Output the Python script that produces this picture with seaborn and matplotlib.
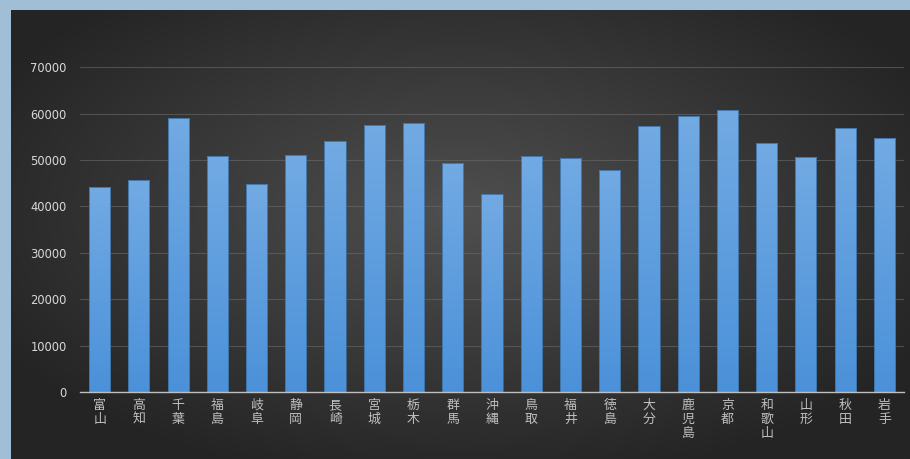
import numpy as np
import pandas as pd
import matplotlib
matplotlib.use("Agg")
import matplotlib.pyplot as plt
import seaborn as sns
from matplotlib.colors import LinearSegmentedColormap

# Prefectures and their values
prefectures = ["富山", "高知", "千葉", "福島", "岐阜", "静岡", "長崎", "宮城", "栃木", "群馬",
               "沖縄", "鳥取", "福井", "徳島", "大分", "鹿児島", "京都", "和歌山", "山形", "秋田", "岩手"]
values = [44200, 45800, 59100, 50900, 44800, 51000, 54200, 57500, 58000, 49400,
          42600, 50800, 50400, 47800, 57400, 59400, 60700, 53600, 50600, 57000, 54700]
y_ticks = [0, 10000, 20000, 30000, 40000, 50000, 60000, 70000]

sns.set_theme(style="dark")
plt.rcParams["font.family"] = ["DejaVu Sans", "Noto Sans CJK JP"]

W, H = 910, 459
fig = plt.figure(figsize=(W / 100, H / 100), dpi=100)
fig.patch.set_facecolor("#a0bfd6")

# Dark panel with a soft radial glow
bg = fig.add_axes([11 / W, 0, (W - 11) / W, (H - 10) / H])
bg.set_axis_off()
gx, gy = np.meshgrid(np.linspace(-1, 1, 400), np.linspace(-1, 1, 200))
r = np.sqrt(((gx - 0.0) / 1.2) ** 2 + ((gy + 0.1) / 1.25) ** 2)
glow = np.clip(1 - r, 0, 1) ** 1.0
panel_cmap = LinearSegmentedColormap.from_list("panel", ["#242424", "#4f4f4f"])
bg.imshow(glow, cmap=panel_cmap, aspect="auto", extent=[0, 1, 0, 1], vmin=0, vmax=1)
bg.set_xlim(0, 1)
bg.set_ylim(0, 1)

df = pd.DataFrame({"prefecture": prefectures, "value": values})

ax = fig.add_axes([80 / W, (H - 392) / H, (904 - 80) / W, (392 - 67.3) / H])
ax.set_facecolor("none")
sns.barplot(data=df, x="prefecture", y="value", ax=ax, width=0.54,
            color="#5b9bd5", edgecolor="#3d6f9e", linewidth=0.6, zorder=3)

# Vertical blue gradient inside each bar
bar_cmap = LinearSegmentedColormap.from_list("bar", ["#4b91d9", "#72aae3"])
grad = np.linspace(0, 1, 256).reshape(-1, 1)
for patch in ax.patches:
    x0, y0 = patch.get_x(), patch.get_y()
    w, h = patch.get_width(), patch.get_height()
    im = ax.imshow(grad, cmap=bar_cmap, origin="lower", aspect="auto",
                   extent=[x0, x0 + w, y0, y0 + h], zorder=3.5)
    im.set_clip_path(patch)
    patch.set_facecolor("none")
    patch.set_zorder(4)

ax.set_xlim(-0.5, len(prefectures) - 0.5)
ax.set_ylim(0, 70000)
ax.set_yticks(y_ticks)
ax.set_yticklabels([str(v) for v in y_ticks])
ax.set_xticks(range(len(prefectures)))
ax.set_xticklabels(["\n".join(p) for p in prefectures], family=["Noto Sans CJK JP"],
                   fontsize=9.3, linespacing=1.12, va="top")
ax.set_xlabel("")
ax.set_ylabel("")

ax.grid(axis="y", color="#6a6a6a", linewidth=0.8, alpha=0.6, zorder=1)
ax.grid(axis="x", visible=False)
for s in ["top", "right", "left"]:
    ax.spines[s].set_visible(False)
ax.spines["bottom"].set_color("#bfbfbf")
ax.spines["bottom"].set_linewidth(1.0)
ax.spines["bottom"].set_zorder(5)

ax.tick_params(axis="y", length=0, pad=9.5, labelsize=8.3, labelcolor="#d9d9d9")
ax.tick_params(axis="x", length=0, pad=5, labelcolor="#bfbfbf")

fig.savefig("out.png", dpi=100, facecolor=fig.get_facecolor())
